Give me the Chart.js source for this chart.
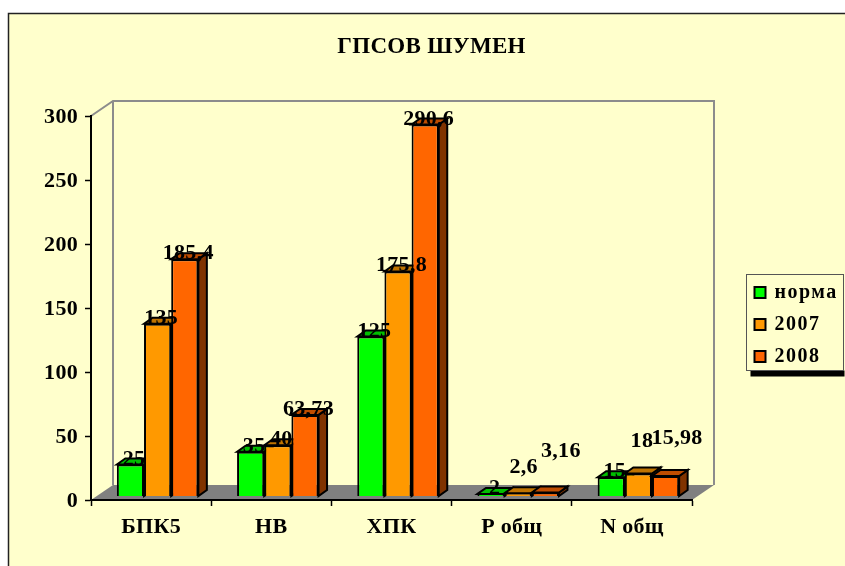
<!DOCTYPE html>
<html><head><meta charset="utf-8">
<style>html,body{margin:0;padding:0;background:#fff}canvas{display:block}</style>
<script src="https://cdn.jsdelivr.net/npm/chart.js@4"></script>
</head><body><canvas id="c" width="845" height="566"></canvas>
<script>
const categories = ['БПК5','НВ','ХПК','Р общ','N общ'];
const norma = [25,35,125,2,15];
const y2007 = [135,40,175.8,2.6,18];
const y2008 = [185.4,63.73,290.6,3.16,15.98];
const seriesNames = ['норма','2007','2008'];
const yTicks = [0,50,100,150,200,250,300];

const faces = [
  {front:'#00FF00',top:'#00BF00',side:'#008000'},
  {front:'#FF9900',top:'#BF7300',side:'#804D00'},
  {front:'#FF6600',top:'#BF4D00',side:'#803300'}
];
const SERIF = '"Liberation Serif","Times New Roman",serif';
const FS = 22;
const barShift = {x:6.5,y:-3.5}, barDepth = {x:8.5,y:-6};
const wall = {x:22,y:-15};
// hand-moved labels in the original (relative offsets per series / category)
const labelNudge = {'1:3':[2,-20],'2:3':[12,-35],'1:4':[0,-26],'2:4':[8,-32]};

function nudgeLabels(s,dy){
  if(s._nudged) return; s._nudged=true;
  const orig=s.drawLabels;
  s.drawLabels=function(ca){const c=s.ctx;c.save();c.translate(0,dy);orig.call(s,ca);c.restore();};
}

const scene = {
  id:'scene',
  afterLayout(ch){ if(ch.titleBlock){ch.titleBlock.left=20;ch.titleBlock.right=843;} },
  beforeDraw(ch){
    const {ctx,chartArea:a}=ch;
    ctx.letterSpacing='0.3px';
    ctx.save();
    ctx.fillStyle='#fff';ctx.fillRect(0,0,845,566);
    ctx.fillStyle='#FFFFCC';ctx.strokeStyle='#222';ctx.lineWidth=1.5;
    ctx.fillRect(8.5,13.5,840,560);ctx.strokeRect(8.5,13.5,840,560);
    ctx.fillStyle='#808080';ctx.beginPath();
    ctx.moveTo(a.left,a.bottom);ctx.lineTo(a.right,a.bottom);
    ctx.lineTo(a.right+wall.x,a.bottom+wall.y);ctx.lineTo(a.left+wall.x,a.bottom+wall.y);ctx.closePath();ctx.fill();
    ctx.strokeStyle='#8C8C8C';ctx.lineWidth=2;ctx.beginPath();
    ctx.moveTo(a.left,a.top);ctx.lineTo(a.left+wall.x,a.top+wall.y);
    ctx.lineTo(a.right+wall.x,a.top+wall.y);ctx.lineTo(a.right+wall.x,a.bottom+wall.y);
    ctx.moveTo(a.left+wall.x,a.top+wall.y);ctx.lineTo(a.left+wall.x,a.bottom+wall.y);
    ctx.stroke();ctx.restore();
  },
  beforeDatasetDraw(){return false;},
  afterDatasetsDraw(ch){
    const {ctx}=ch;
    // bars left to right, so each front hides its neighbour's side
    ch.data.datasets.forEach((ds,i)=>{
      const meta=ch.getDatasetMeta(i),f=faces[i];
      ctx.save();ctx.translate(barShift.x,barShift.y);
      ctx.lineWidth=2;ctx.strokeStyle='#000';ctx.lineJoin='miter';
      meta.data.forEach(b=>{
        const l=b.x-b.width/2,r=b.x+b.width/2,t=b.y,bt=b.base,dx=barDepth.x,dy=barDepth.y;
        ctx.fillStyle=f.side;ctx.beginPath();
        ctx.moveTo(r,t);ctx.lineTo(r+dx,t+dy);ctx.lineTo(r+dx,bt+dy);ctx.lineTo(r,bt);ctx.closePath();ctx.fill();ctx.stroke();
        ctx.fillStyle=f.top;ctx.beginPath();
        ctx.moveTo(l,t);ctx.lineTo(l+dx,t+dy);ctx.lineTo(r+dx,t+dy);ctx.lineTo(r,t);ctx.closePath();ctx.fill();ctx.stroke();
      });
      meta.controller.draw();
      ctx.restore();
    });
    ctx.save();
    ctx.font=`bold ${FS}px ${SERIF}`;ctx.fillStyle='#000';ctx.textAlign='center';ctx.textBaseline='alphabetic';
    ch.data.datasets.forEach((ds,i)=>{
      ch.getDatasetMeta(i).data.forEach((b,j)=>{
        const n=labelNudge[i+':'+j]||[0,0];
        const s=String(ds.data[j]).replace('.',',');
        ctx.fillText(s,b.x+barShift.x+3.5+n[0],b.y+barShift.y+n[1]);
      });
    });
    // legend
    const L={l:746.5,t:274.5,w:97,h:96};
    ctx.fillStyle='#000';ctx.fillRect(L.l+4,L.t+L.h,L.w-3,6);
    ctx.fillStyle='#FFFFCC';ctx.strokeStyle='#555';ctx.lineWidth=1;ctx.fillRect(L.l,L.t,L.w,L.h);ctx.strokeRect(L.l,L.t,L.w,L.h);
    ctx.textAlign='left';ctx.font=`bold 20px ${SERIF}`;ctx.letterSpacing='1.5px';
    seriesNames.forEach((nm,i)=>{
      const y=L.t+18.5+i*32;
      ctx.fillStyle=faces[i].front;ctx.strokeStyle='#000';ctx.lineWidth=2;
      ctx.fillRect(L.l+8,y-6,11,11);ctx.strokeRect(L.l+8,y-6,11,11);
      ctx.fillStyle='#000';ctx.textBaseline='middle';ctx.fillText(nm,L.l+28,y);
    });
    ctx.restore();
  }
};

new Chart(document.getElementById('c'),{
  type:'bar',
  data:{labels:categories,datasets:[norma,y2007,y2008].map((d,i)=>({
    label:seriesNames[i],data:d,
    backgroundColor:faces[i].front,borderColor:'#000',borderWidth:2
  }))},
  plugins:[scene],
  options:{
    responsive:false,animation:false,
    layout:{padding:{left:20,top:0,right:153,bottom:0}},
    datasets:{bar:{barPercentage:1,categoryPercentage:0.678,grouped:true}},
    plugins:{
      legend:{display:false},tooltip:{enabled:false},
      title:{display:true,text:'ГПСОВ ШУМЕН',color:'#000',
        font:{family:SERIF,size:23,weight:'bold',lineHeight:1.2},
        padding:{top:33,bottom:55.4}}
    },
    scales:{
      x:{
        afterFit(s){s.height=66;},
        grid:{display:true,drawOnChartArea:false,offset:true,color:'#000',tickLength:6,tickWidth:1.5},
        border:{color:'#000',width:2},
        ticks:{color:'#000',font:{family:SERIF,size:FS,weight:'bold'},padding:8,maxRotation:0}
      },
      y:{
        min:0,max:300,
        afterFit(s){s.width=71;},
        afterUpdate(s){nudgeLabels(s,1.5);},
        afterBuildTicks(s){s.ticks=yTicks.map(v=>({value:v}));},
        grid:{display:true,drawOnChartArea:false,color:'#000',tickLength:6,tickWidth:1.5},
        border:{color:'#000',width:2},
        ticks:{color:'#000',font:{family:SERIF,size:FS,weight:'bold'},padding:7}
      }
    }
  }
});
</script></body></html>
